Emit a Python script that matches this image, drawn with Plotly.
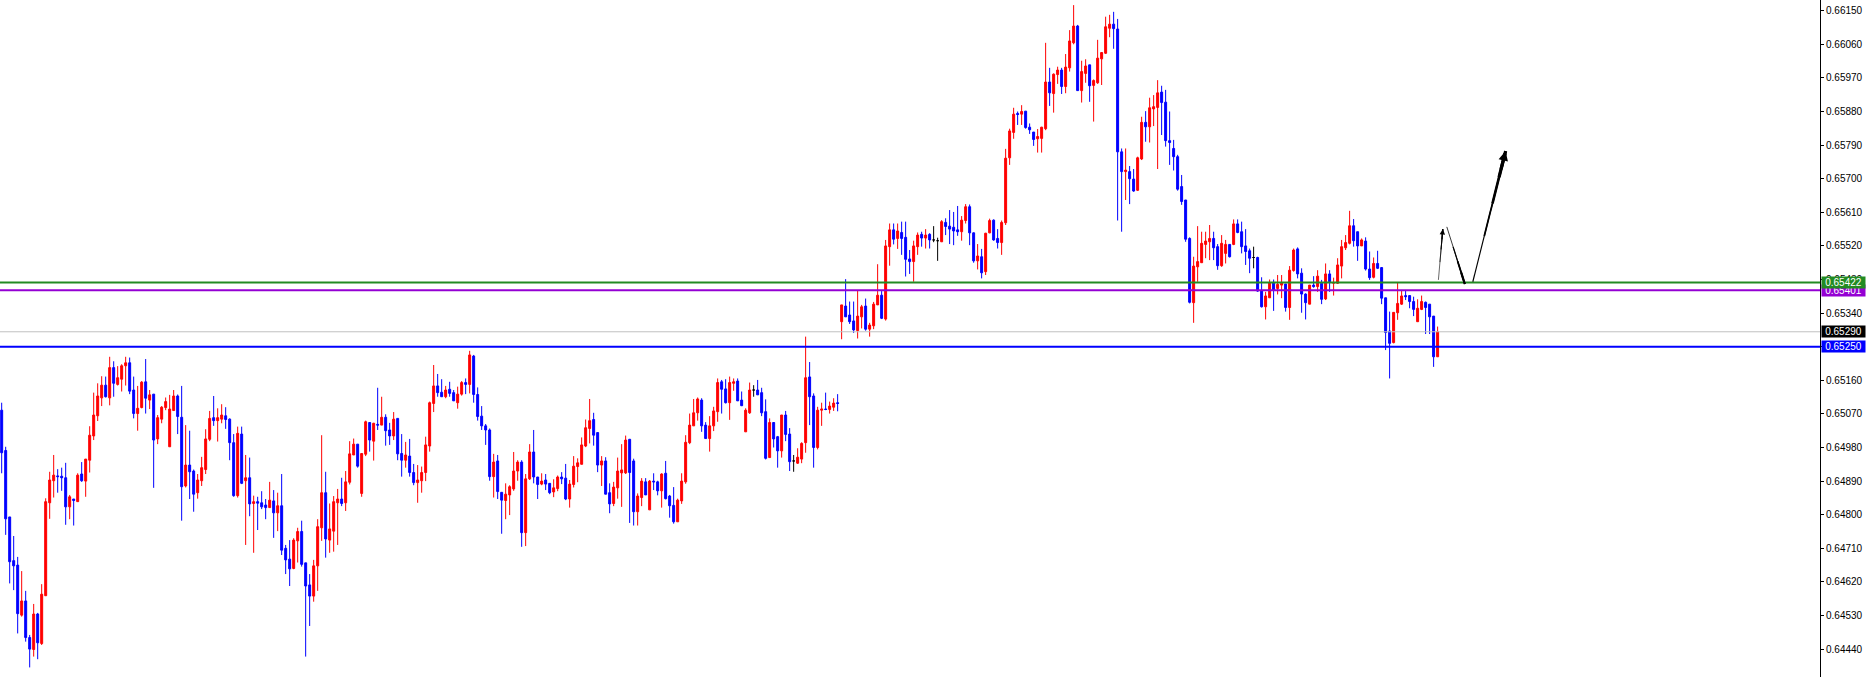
import plotly.graph_objects as go

# ---- candle data (one candle per bar, oldest first) ----
opens = [
0.65080,0.64972,0.64794,0.64677,0.64665,0.64531,0.64569,0.64471,0.64439,0.64534,
0.64455,0.64583,0.64832,0.64891,0.64904,0.64903,0.64899,0.64821,0.64842,0.64835,
0.64909,0.64890,0.64946,0.65011,0.65065,0.65113,0.65147,0.65113,0.65194,0.65149,
0.65163,0.65199,0.65207,0.65134,0.65071,0.65087,0.65156,0.65107,0.65123,0.65003,
0.65056,0.65087,0.64982,0.65079,0.65118,0.65061,0.64877,0.64933,0.64917,0.64859,
0.64891,0.64921,0.65002,0.65060,0.65052,0.65056,0.65065,0.65056,0.64993,0.64851,
0.65016,0.64891,0.64899,0.64830,0.64835,0.64832,0.64826,0.64819,0.64837,0.64805,
0.64824,0.64710,0.64681,0.64656,0.64730,0.64755,0.64671,0.64612,0.64582,0.64663,
0.64765,0.64859,0.64732,0.64756,0.64832,0.64842,0.64832,0.64887,0.64960,0.64989,
0.64857,0.64962,0.65047,0.64997,0.65042,0.65040,0.65061,0.65027,0.65011,0.65058,
0.64964,0.64946,0.64957,0.64913,0.64886,0.64891,0.64913,0.64984,0.65098,0.65145,
0.65128,0.65116,0.65136,0.65127,0.65100,0.65123,0.65154,0.65149,0.65225,0.65122,
0.65064,0.65038,0.65027,0.64902,0.64944,0.64860,0.64838,0.64853,0.64869,0.64917,
0.64941,0.64752,0.64896,0.64968,0.64901,0.64882,0.64893,0.64884,0.64861,0.64870,
0.64901,0.64898,0.64842,0.64881,0.64929,0.64935,0.64984,0.65031,0.65055,0.65020,
0.64933,0.64944,0.64859,0.64830,0.64872,0.64912,0.64912,0.65002,0.64944,0.64808,
0.64846,0.64888,0.64813,0.64890,0.64888,0.64864,0.64911,0.64850,0.64825,0.64781,
0.64837,0.64888,0.64993,0.65038,0.65073,0.65107,0.65040,0.65004,0.65038,0.65076,
0.65156,0.65137,0.65100,0.65152,0.65158,0.65107,0.65022,0.65073,0.65134,0.65134,
0.65127,0.65076,0.64953,0.65047,0.65009,0.64971,0.65067,0.65016,0.64944,0.64938,
0.64949,0.64993,0.65169,0.65118,0.64980,0.65080,0.65083,0.65082,0.65088,0.65100,
0.65317,0.65359,0.65335,0.65319,0.65293,0.65330,0.65359,0.65297,0.65306,0.65362,
0.65388,0.65324,0.65518,0.65563,0.65540,0.65556,0.65543,0.65485,0.65478,0.65518,
0.65551,0.65541,0.65551,0.65536,0.65534,0.65531,0.65583,0.65573,0.65570,0.65563,
0.65558,0.65588,0.65625,0.65555,0.65480,0.65491,0.65451,0.65555,0.65589,0.65540,
0.65529,0.65582,0.65756,0.65824,0.65875,0.65873,0.65881,0.65838,0.65825,0.65807,
0.65808,0.65834,0.65959,0.65928,0.65979,0.65991,0.65947,0.65997,0.66064,0.66109,
0.65936,0.65982,0.66005,0.65950,0.65957,0.66021,0.66036,0.66103,0.66114,0.66101,
0.65772,0.65719,0.65719,0.65699,0.65669,0.65753,0.65851,0.65839,0.65887,0.65891,
0.65932,0.65905,0.65802,0.65781,0.65759,0.65679,0.65643,0.65540,0.65368,0.65464,
0.65475,0.65524,0.65531,0.65540,0.65518,0.65467,0.65500,0.65524,0.65524,0.65579,
0.65558,0.65520,0.65507,0.65489,0.65489,0.65400,0.65357,0.65381,0.65422,0.65406,
0.65415,0.65418,0.65355,0.65454,0.65512,0.65447,0.65391,0.65364,0.65415,0.65411,
0.65420,0.65378,0.65445,0.65420,0.65420,0.65466,0.65515,0.65527,0.65574,0.65558,
0.65520,0.65533,0.65458,0.65436,0.65473,0.65462,0.65381,0.65292,0.65261,0.65341,
0.65364,0.65387,0.65387,0.65371,0.65317,0.65350,0.65369,0.65364,0.65332,0.65223,
]
highs = [
0.65100,0.64982,0.64794,0.64743,0.64687,0.64649,0.64596,0.64478,0.64561,0.64537,
0.64614,0.64844,0.64915,0.64960,0.64922,0.64926,0.64939,0.64853,0.64842,0.64911,
0.64941,0.64949,0.65037,0.65127,0.65152,0.65171,0.65170,0.65223,0.65211,0.65198,
0.65203,0.65223,0.65221,0.65170,0.65145,0.65158,0.65217,0.65134,0.65123,0.65067,
0.65091,0.65114,0.65121,0.65134,0.65122,0.65145,0.65040,0.65025,0.64921,0.64909,
0.64955,0.65029,0.65078,0.65118,0.65085,0.65096,0.65088,0.65058,0.65016,0.65036,
0.65036,0.64960,0.64953,0.64851,0.64848,0.64863,0.64842,0.64888,0.64866,0.64859,
0.64909,0.64719,0.64732,0.64737,0.64765,0.64784,0.64671,0.64641,0.64679,0.64788,
0.65013,0.64915,0.64830,0.64850,0.64869,0.64899,0.64917,0.64997,0.65004,0.64989,
0.64964,0.65052,0.65047,0.65046,0.65140,0.65116,0.65069,0.65046,0.65075,0.65058,
0.65016,0.64995,0.65003,0.64936,0.64933,0.64929,0.65009,0.65103,0.65201,0.65177,
0.65163,0.65145,0.65156,0.65134,0.65143,0.65158,0.65165,0.65239,0.65228,0.65141,
0.65091,0.65043,0.65031,0.64963,0.64960,0.64860,0.64884,0.64879,0.64968,0.64946,
0.64946,0.64909,0.64989,0.65027,0.64901,0.64911,0.64909,0.64884,0.64895,0.64905,
0.64914,0.64936,0.64893,0.64957,0.64951,0.65007,0.65055,0.65110,0.65073,0.65020,
0.64957,0.64954,0.64884,0.64888,0.64953,0.64989,0.65012,0.65003,0.64950,0.64857,
0.64898,0.64898,0.64893,0.64911,0.64891,0.64911,0.64944,0.64853,0.64874,0.64843,
0.64911,0.65013,0.65071,0.65110,0.65114,0.65112,0.65048,0.65064,0.65089,0.65165,
0.65161,0.65163,0.65170,0.65165,0.65165,0.65130,0.65085,0.65154,0.65147,0.65161,
0.65140,0.65109,0.65058,0.65047,0.65011,0.65067,0.65078,0.65032,0.64960,0.64978,
0.64994,0.65277,0.65209,0.65125,0.65089,0.65100,0.65127,0.65103,0.65112,0.65123,
0.65362,0.65431,0.65371,0.65371,0.65400,0.65362,0.65379,0.65314,0.65370,0.65471,
0.65399,0.65536,0.65580,0.65580,0.65580,0.65585,0.65585,0.65509,0.65534,0.65556,
0.65558,0.65565,0.65554,0.65573,0.65542,0.65589,0.65594,0.65616,0.65611,0.65627,
0.65600,0.65632,0.65631,0.65556,0.65525,0.65512,0.65555,0.65593,0.65591,0.65565,
0.65588,0.65780,0.65834,0.65890,0.65880,0.65897,0.65881,0.65848,0.65825,0.65833,
0.65839,0.66064,0.65997,0.65982,0.66000,0.65997,0.66034,0.66098,0.66165,0.66112,
0.66016,0.66020,0.66005,0.65966,0.66072,0.66038,0.66134,0.66139,0.66147,0.66128,
0.65781,0.65781,0.65734,0.65726,0.65759,0.65866,0.65881,0.65917,0.65924,0.65964,
0.65949,0.65938,0.65880,0.65804,0.65764,0.65710,0.65643,0.65543,0.65491,0.65573,
0.65558,0.65558,0.65576,0.65558,0.65525,0.65549,0.65536,0.65524,0.65591,0.65591,
0.65585,0.65565,0.65513,0.65518,0.65491,0.65436,0.65397,0.65430,0.65430,0.65442,
0.65442,0.65418,0.65466,0.65513,0.65516,0.65460,0.65393,0.65415,0.65439,0.65455,
0.65429,0.65473,0.65455,0.65435,0.65487,0.65536,0.65549,0.65614,0.65592,0.65558,
0.65540,0.65543,0.65505,0.65489,0.65507,0.65463,0.65381,0.65344,0.65342,0.65422,
0.65402,0.65402,0.65387,0.65384,0.65377,0.65387,0.65371,0.65364,0.65332,0.65304,
]
lows = [
0.64911,0.64746,0.64616,0.64598,0.64482,0.64527,0.64460,0.64391,0.64420,0.64413,
0.64451,0.64583,0.64789,0.64846,0.64859,0.64864,0.64773,0.64788,0.64771,0.64835,
0.64888,0.64848,0.64913,0.65000,0.65051,0.65091,0.65114,0.65093,0.65116,0.65146,
0.65130,0.65146,0.65123,0.65058,0.65025,0.65085,0.65071,0.65083,0.64872,0.64989,
0.65045,0.65080,0.64982,0.65079,0.65016,0.64784,0.64873,0.64842,0.64808,0.64843,
0.64877,0.64909,0.64997,0.65038,0.64996,0.65045,0.65030,0.64946,0.64848,0.64846,
0.64882,0.64719,0.64796,0.64698,0.64759,0.64815,0.64788,0.64819,0.64738,0.64756,
0.64692,0.64641,0.64609,0.64654,0.64672,0.64661,0.64420,0.64502,0.64567,0.64596,
0.64730,0.64685,0.64698,0.64701,0.64719,0.64823,0.64810,0.64881,0.64960,0.64926,
0.64848,0.64957,0.64969,0.64945,0.65027,0.65040,0.64985,0.64987,0.65000,0.64946,
0.64902,0.64926,0.64902,0.64879,0.64832,0.64859,0.64890,0.64969,0.65075,0.65116,
0.65116,0.65112,0.65116,0.65105,0.65084,0.65119,0.65123,0.65125,0.65100,0.65052,
0.65027,0.64987,0.64891,0.64846,0.64842,0.64749,0.64788,0.64799,0.64864,0.64891,
0.64714,0.64716,0.64893,0.64884,0.64842,0.64879,0.64866,0.64855,0.64847,0.64863,
0.64882,0.64839,0.64819,0.64873,0.64887,0.64935,0.64981,0.64991,0.64985,0.64914,
0.64877,0.64855,0.64804,0.64823,0.64843,0.64821,0.64909,0.64778,0.64771,0.64771,
0.64823,0.64853,0.64813,0.64866,0.64852,0.64819,0.64841,0.64792,0.64776,0.64781,
0.64829,0.64883,0.64989,0.65038,0.65052,0.65022,0.65004,0.64969,0.65024,0.65049,
0.65071,0.65098,0.65054,0.65132,0.65105,0.65091,0.65022,0.65070,0.65116,0.65121,
0.65064,0.64948,0.64953,0.64980,0.64926,0.64953,0.64997,0.64917,0.64915,0.64936,
0.64938,0.64966,0.65040,0.64926,0.64975,0.65038,0.65080,0.65071,0.65078,0.65077,
0.65270,0.65330,0.65311,0.65287,0.65272,0.65299,0.65293,0.65277,0.65297,0.65362,
0.65324,0.65320,0.65467,0.65524,0.65512,0.65496,0.65438,0.65445,0.65424,0.65496,
0.65518,0.65513,0.65513,0.65530,0.65480,0.65531,0.65549,0.65525,0.65522,0.65547,
0.65534,0.65580,0.65522,0.65475,0.65457,0.65433,0.65442,0.65554,0.65534,0.65513,
0.65496,0.65576,0.65737,0.65807,0.65844,0.65844,0.65834,0.65820,0.65788,0.65770,
0.65770,0.65830,0.65895,0.65877,0.65954,0.65927,0.65929,0.65987,0.66060,0.65936,
0.65904,0.65957,0.65906,0.65853,0.65954,0.65951,0.66034,0.66079,0.66048,0.65588,
0.65558,0.65643,0.65632,0.65665,0.65667,0.65750,0.65799,0.65797,0.65841,0.65726,
0.65817,0.65786,0.65737,0.65722,0.65668,0.65630,0.65531,0.65366,0.65314,0.65424,
0.65475,0.65487,0.65482,0.65482,0.65456,0.65464,0.65473,0.65489,0.65522,0.65554,
0.65500,0.65469,0.65447,0.65460,0.65397,0.65355,0.65323,0.65381,0.65346,0.65390,
0.65380,0.65344,0.65322,0.65451,0.65433,0.65341,0.65323,0.65364,0.65408,0.65397,
0.65364,0.65375,0.65397,0.65387,0.65418,0.65433,0.65509,0.65524,0.65518,0.65480,
0.65520,0.65454,0.65429,0.65433,0.65458,0.65364,0.65241,0.65165,0.65259,0.65322,
0.65362,0.65375,0.65353,0.65332,0.65317,0.65348,0.65284,0.65284,0.65196,0.65223,
]
closes = [
0.64966,0.64789,0.64674,0.64663,0.64535,0.64569,0.64471,0.64440,0.64534,0.64457,
0.64587,0.64835,0.64893,0.64906,0.64902,0.64899,0.64821,0.64848,0.64838,0.64906,
0.64891,0.64949,0.65013,0.65067,0.65118,0.65147,0.65116,0.65194,0.65152,0.65167,
0.65199,0.65207,0.65131,0.65071,0.65085,0.65155,0.65112,0.65121,0.65000,0.65060,
0.65088,0.65103,0.65083,0.65118,0.65063,0.64875,0.64933,0.64915,0.64855,0.64893,
0.64926,0.65003,0.65058,0.65052,0.65060,0.65067,0.65055,0.64993,0.64851,0.65018,
0.64884,0.64899,0.64829,0.64835,0.64831,0.64821,0.64819,0.64839,0.64805,0.64824,
0.64705,0.64679,0.64655,0.64732,0.64755,0.64667,0.64609,0.64582,0.64663,0.64768,
0.64859,0.64735,0.64762,0.64835,0.64842,0.64830,0.64888,0.64963,0.64989,0.64930,
0.64964,0.65049,0.65000,0.65045,0.65040,0.65061,0.65025,0.65011,0.65056,0.64963,
0.64946,0.64960,0.64913,0.64886,0.64893,0.64913,0.64987,0.65100,0.65145,0.65127,
0.65116,0.65134,0.65125,0.65105,0.65123,0.65154,0.65149,0.65228,0.65122,0.65063,
0.65038,0.65027,0.64902,0.64941,0.64862,0.64839,0.64855,0.64875,0.64917,0.64941,
0.64752,0.64896,0.64968,0.64901,0.64881,0.64890,0.64882,0.64859,0.64872,0.64901,
0.64896,0.64842,0.64882,0.64930,0.64939,0.64987,0.65033,0.65052,0.65013,0.64933,
0.64944,0.64855,0.64829,0.64874,0.64917,0.64920,0.65000,0.64913,0.64808,0.64850,
0.64890,0.64853,0.64890,0.64888,0.64864,0.64909,0.64843,0.64824,0.64781,0.64839,
0.64890,0.64994,0.65040,0.65073,0.65110,0.65038,0.65004,0.65038,0.65078,0.65154,
0.65136,0.65100,0.65154,0.65156,0.65105,0.65092,0.65080,0.65134,0.65134,0.65121,
0.65073,0.64951,0.65047,0.65003,0.64971,0.65067,0.65015,0.64942,0.64944,0.64954,
0.64991,0.65167,0.65116,0.64980,0.65080,0.65083,0.65082,0.65091,0.65099,0.65098,
0.65362,0.65330,0.65317,0.65295,0.65332,0.65357,0.65297,0.65308,0.65364,0.65388,
0.65326,0.65520,0.65563,0.65538,0.65560,0.65540,0.65484,0.65478,0.65520,0.65549,
0.65541,0.65549,0.65536,0.65536,0.65534,0.65585,0.65572,0.65565,0.65560,0.65558,
0.65589,0.65625,0.65555,0.65480,0.65493,0.65448,0.65554,0.65588,0.65536,0.65529,
0.65583,0.65755,0.65828,0.65873,0.65872,0.65880,0.65837,0.65831,0.65805,0.65813,
0.65838,0.65959,0.65930,0.65980,0.65991,0.65947,0.65999,0.66069,0.66109,0.65936,
0.65987,0.66002,0.65949,0.65963,0.66023,0.66038,0.66107,0.66114,0.66102,0.65772,
0.65719,0.65723,0.65700,0.65667,0.65756,0.65851,0.65839,0.65890,0.65893,0.65930,
0.65904,0.65802,0.65797,0.65759,0.65672,0.65639,0.65538,0.65369,0.65466,0.65478,
0.65527,0.65533,0.65540,0.65515,0.65467,0.65527,0.65524,0.65491,0.65579,0.65556,
0.65518,0.65505,0.65487,0.65489,0.65399,0.65357,0.65386,0.65422,0.65402,0.65417,
0.65420,0.65355,0.65455,0.65509,0.65445,0.65391,0.65368,0.65415,0.65411,0.65439,
0.65377,0.65445,0.65424,0.65422,0.65469,0.65518,0.65529,0.65574,0.65534,0.65520,
0.65536,0.65458,0.65435,0.65473,0.65460,0.65380,0.65288,0.65259,0.65342,0.65366,
0.65386,0.65384,0.65371,0.65350,0.65353,0.65371,0.65355,0.65330,0.65223,0.65290,
]

# price-axis tick labels
y_ticks = [0.66150, 0.66060, 0.65970, 0.65880, 0.65790, 0.65700, 0.65610, 0.65520,
           0.65430, 0.65340, 0.65250, 0.65160, 0.65070, 0.64980, 0.64890, 0.64800,
           0.64710, 0.64620, 0.64530, 0.64440]

# horizontal levels: price, line colour, label colour, line width
levels = [
    (0.65250, "#0000FF", "#0000FF", 2),
    (0.65290, "#C0C0C0", "#000000", 1),
    (0.65401, "#9400D3", "#9400D3", 2),
    (0.65422, "#228B22", "#228B22", 2),
]

# hand-drawn arrows in (bar, price) coordinates: tail -> head, max width, head size (0 = none)
arrows = [
    ((359.2, 0.65429), (360.3, 0.65565), 1.2, 0.9),
    ((361.3, 0.65571), (365.8, 0.65418), 2.2, 0.0),
    ((367.8, 0.65424), (376.0, 0.65774), 3.2, 0.6),
]
# taper profile along each arrow: (start fraction, share of max width)
taper = [(0.0, 0.35), (0.35, 0.55), (0.6, 0.8), (0.8, 1.0)]

UP, DOWN, DOJI = "#FF0000", "#0000FF", "#000000"

bars = list(range(len(opens)))


def candle_trace(ids, color):
    return go.Candlestick(
        x=ids,
        open=[opens[i] for i in ids],
        high=[highs[i] for i in ids],
        low=[lows[i] for i in ids],
        close=[closes[i] for i in ids],
        increasing=dict(line=dict(color=color, width=1), fillcolor=color),
        decreasing=dict(line=dict(color=color, width=1), fillcolor=color),
        whiskerwidth=0,
        showlegend=False,
        hoverinfo="skip",
    )


up_ids = [i for i in bars if closes[i] > opens[i]]
dn_ids = [i for i in bars if closes[i] < opens[i]]
dj_ids = [i for i in bars if closes[i] == opens[i]]

fig = go.Figure()
fig.add_trace(candle_trace(up_ids, UP))
fig.add_trace(candle_trace(dn_ids, DOWN))
fig.add_trace(candle_trace(dj_ids, DOJI))

shapes = []
for price, lcol, _, lw in levels:
    shapes.append(dict(type="line", xref="paper", x0=0, x1=1, yref="y", y0=price, y1=price,
                       line=dict(color=lcol, width=lw), layer="above"))

annotations = []
label_font = dict(family="Liberation Sans", size=10, color="white")
for price, _, bcol, _ in levels:
    annotations.append(dict(x=1, xref="paper", xanchor="left", xshift=1,
                            y=price, yref="y", yanchor="middle",
                            text=f"{price:.5f}", showarrow=False, bgcolor=bcol,
                            font=label_font, width=43, height=11, borderpad=0, align="center"))

for (tx, ty), (hx, hy), w, hs in arrows:
    # tapered shaft: thin at the tail, thick toward the head
    for f, share in taper:
        sx = tx + (hx - tx) * f
        sy = ty + (hy - ty) * f
        shapes.append(dict(type="line", xref="x", yref="y", x0=sx, y0=sy, x1=hx, y1=hy,
                           line=dict(color="black", width=max(0.6, w * share)), layer="above"))
    if hs > 0:
        bx = tx + (hx - tx) * 0.85
        by = ty + (hy - ty) * 0.85
        annotations.append(dict(x=hx, y=hy, xref="x", yref="y", ax=bx, ay=by,
                                axref="x", ayref="y", text="", showarrow=True,
                                arrowhead=2, arrowsize=hs, arrowwidth=w,
                                arrowcolor="black", standoff=0))

fig.update_layout(
    width=1866, height=677,
    margin=dict(l=0, r=46, t=0, b=0, pad=0),
    paper_bgcolor="white", plot_bgcolor="white",
    showlegend=False,
    boxgap=0.3, boxgroupgap=0.3,
    shapes=shapes,
    annotations=annotations,
    xaxis=dict(range=[-0.42, 454.6], visible=False, showgrid=False,
               rangeslider=dict(visible=False), fixedrange=True),
    yaxis=dict(side="right", range=[0.643653, 0.661787],
               tickvals=y_ticks, ticktext=[f"{v:.5f}" for v in y_ticks],
               ticks="outside", ticklen=3, tickcolor="black", tickwidth=1,
               showline=True, linecolor="black", linewidth=1,
               showgrid=False, zeroline=False, fixedrange=True,
               tickfont=dict(family="Liberation Sans", size=10, color="black")),
)

fig.write_html("out.html", config={"displayModeBar": False},
               post_script="document.body.style.margin='0';document.body.style.overflow='hidden';")
